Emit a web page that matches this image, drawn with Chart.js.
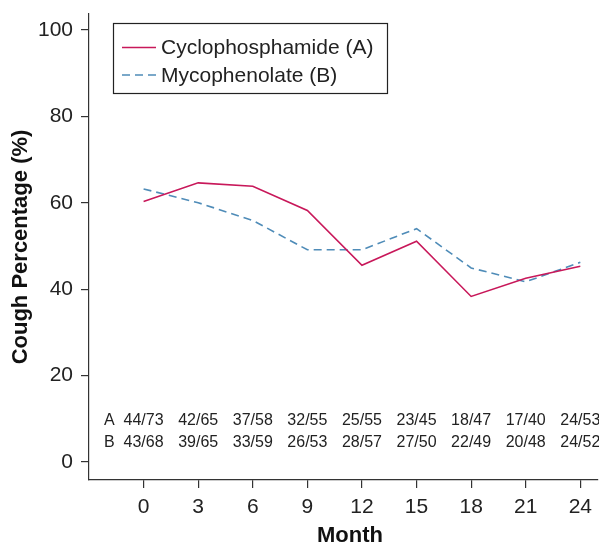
<!DOCTYPE html>
<html>
<head>
<meta charset="utf-8">
<script src="https://cdn.jsdelivr.net/npm/chart.js@4"></script>
<style>
html,body{margin:0;padding:0;background:#fff;}
#wrap{width:599px;height:544px;position:relative;}
</style>
</head>
<body>
<div id="wrap"><canvas id="c" width="599" height="544"></canvas></div>
<script>
const months = [0, 3, 6, 9, 12, 15, 18, 21, 24];
const seriesA = [60.3, 64.6, 63.8, 58.2, 45.5, 51.1, 38.3, 42.5, 45.3];
const seriesB = [63.2, 60.0, 55.9, 49.1, 49.1, 54.0, 44.9, 41.7, 46.2];
const countsA = ['44/73', '42/65', '37/58', '32/55', '25/55', '23/45', '18/47', '17/40', '24/53'];
const countsB = ['43/68', '39/65', '33/59', '26/53', '28/57', '27/50', '22/49', '20/48', '24/52'];
const labelA = 'Cyclophosphamide (A)';
const labelB = 'Mycophenolate (B)';
const xTicks = [0, 3, 6, 9, 12, 15, 18, 21, 24];
const yTicks = [0, 20, 40, 60, 80, 100];

const RED = '#c8185a';
const BLUE = '#4f8cb8';
const AXIS = '#333333';
const FONT = "'Liberation Sans', Arial, Helvetica, sans-serif";

const overlay = {
  id: 'overlay',
  afterDatasetsDraw(chart) {
    const ctx = chart.ctx;
    const xs = chart.scales.x, ys = chart.scales.y;
    ctx.save();
    // count rows
    ctx.font = '16px ' + FONT;
    ctx.fillStyle = '#222';
    ctx.textBaseline = 'middle';
    ctx.textAlign = 'center';
    const yA = ys.getPixelForValue(9.5), yB = ys.getPixelForValue(4.4);
    ctx.fillText('A', xs.getPixelForValue(-1.88), yA);
    ctx.fillText('B', xs.getPixelForValue(-1.88), yB);
    months.forEach((m, i) => {
      ctx.fillText(countsA[i], xs.getPixelForValue(m), yA);
      ctx.fillText(countsB[i], xs.getPixelForValue(m), yB);
    });
    // legend
    ctx.strokeStyle = '#222';
    ctx.lineWidth = 1.2;
    ctx.setLineDash([]);
    ctx.strokeRect(113.5, 23.5, 274, 70);
    ctx.font = '21px ' + FONT;
    ctx.textAlign = 'left';
    const items = [[labelA, RED, [], 47.5], [labelB, BLUE, [8, 5], 75]];
    items.forEach(([t, col, dash, y]) => {
      ctx.strokeStyle = col;
      ctx.lineWidth = 1.5;
      ctx.setLineDash(dash);
      ctx.beginPath();
      ctx.moveTo(122, y);
      ctx.lineTo(156, y);
      ctx.stroke();
      ctx.fillStyle = '#222';
      ctx.fillText(t, 161, y + 1);
    });
    // x title
    ctx.setLineDash([]);
    ctx.font = 'bold 22px ' + FONT;
    ctx.textAlign = 'center';
    ctx.fillStyle = '#111';
    ctx.fillText('Month', 350, 536);
    ctx.restore();
  }
};

new Chart(document.getElementById('c'), {
  type: 'line',
  data: {
    datasets: [
      { label: labelA, data: months.map((m, i) => ({x: m, y: seriesA[i]})), borderColor: RED, borderWidth: 1.6, pointRadius: 0, tension: 0, fill: false },
      { label: labelB, data: months.map((m, i) => ({x: m, y: seriesB[i]})), borderColor: BLUE, borderWidth: 1.6, borderDash: [8, 5], pointRadius: 0, tension: 0, fill: false }
    ]
  },
  plugins: [overlay],
  options: {
    responsive: false,
    animation: false,
    events: [],
    layout: { padding: { left: 0, right: 0, top: 4, bottom: 0 } },
    plugins: { legend: { display: false }, tooltip: { enabled: false } },
    scales: {
      x: {
        type: 'linear',
        min: -3,
        max: 24.93,
        afterBuildTicks(s) { s.ticks = xTicks.map(v => ({value: v})); },
        afterFit(s) { s.height = 64; },
        border: { display: true, color: AXIS, width: 1.2 },
        grid: { display: true, drawOnChartArea: false, drawTicks: true, tickLength: 8, color: AXIS, lineWidth: 1.2 },
        ticks: { color: '#222', font: { size: 21, family: FONT }, padding: 7, maxRotation: 0, autoSkip: false },
        title: { display: false }
      },
      y: {
        type: 'linear',
        min: -4.2,
        max: 103.7,
        afterBuildTicks(s) { s.ticks = yTicks.map(v => ({value: v})); },
        afterFit(s) { s.width = 89; s.paddingTop = 14; s.paddingBottom = 0; },
        border: { display: true, color: AXIS, width: 1.2 },
        grid: { display: true, drawOnChartArea: false, drawTicks: true, tickLength: 8, color: AXIS, lineWidth: 1.2 },
        ticks: { color: '#222', font: { size: 21, family: FONT }, padding: 8, autoSkip: false },
        title: { display: true, text: 'Cough Percentage (%)', color: '#111', font: { size: 22, weight: 'bold', family: FONT }, padding: { top: 8, bottom: 0 } }
      }
    }
  }
});
</script>
</body>
</html>
